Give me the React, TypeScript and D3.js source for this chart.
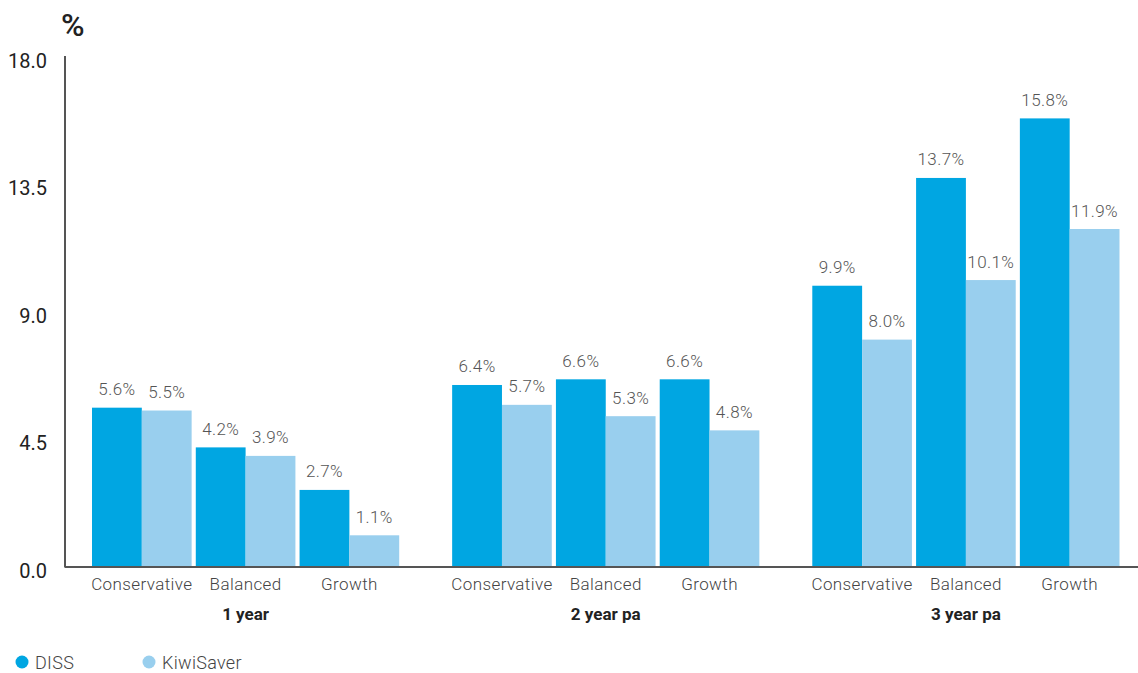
import React from "react";
import * as d3 from "d3";

const periods = ["1 year", "2 year pa", "3 year pa"];
const funds = ["Conservative", "Balanced", "Growth"];
const seriesNames = ["DISS", "KiwiSaver"];
// values[period][fund]
const dissValues = [
  [5.6, 4.2, 2.7],
  [6.4, 6.6, 6.6],
  [9.9, 13.7, 15.8],
];
const kiwiValues = [
  [5.5, 3.9, 1.1],
  [5.7, 5.3, 4.8],
  [8.0, 10.1, 11.9],
];
const yTicks = [0, 4.5, 9, 13.5, 18];
const colors = ["#00A6E2", "#99CFEE"];

const W = 1138;
const H = 673;
const FONT = "Roboto, 'Noto Sans', sans-serif";

export default function App() {
  const axisX = 65;
  const y = d3.scaleLinear().domain([0, 18]).range([566.5, 56]);
  const xPeriod = d3
    .scaleBand<string>()
    .domain(periods)
    .range([92, 1119.5])
    .paddingInner(0.147)
    .paddingOuter(0);
  const xFund = d3
    .scaleBand<string>()
    .domain(funds)
    .range([0, xPeriod.bandwidth()])
    .paddingInner(0.04)
    .paddingOuter(0);
  const xSeries = d3
    .scaleBand<string>()
    .domain(seriesNames)
    .range([0, xFund.bandwidth()]);

  const seriesData = [dissValues, kiwiValues];

  return (
    <svg width={W} height={H} style={{ position: "absolute", left: 0, top: 0, background: "#fff" }} fontFamily={FONT}>
      <rect x={0} y={0} width={W} height={H} fill="#fff" />
      <text x={61} y={36} fontSize={32} fontWeight={500} fill="#222">%</text>
      {yTicks.map((t) => (
        <text key={t} x={47} y={y(t) + 11.5} fontSize={20} fill="#222" textAnchor="end">
          {d3.format(".1f")(t)}
        </text>
      ))}
      {periods.map((p, pi) => (
        <g key={p} transform={`translate(${xPeriod(p)},0)`}>
          {funds.map((f, fi) => (
            <g key={f} transform={`translate(${xFund(f)},0)`}>
              {seriesNames.map((s, si) => {
                const v = seriesData[si][pi][fi];
                const bx = xSeries(s)!;
                const bw = xSeries.bandwidth();
                return (
                  <g key={s}>
                    <rect x={bx} y={y(v)} width={bw} height={y(0) - y(v)} fill={colors[si]} />
                    <text x={bx + bw / 2} y={y(v) - 12.5} fontSize={17} letterSpacing={0.4} fontWeight={300} fill="#555" textAnchor="middle">
                      {v.toFixed(1)}%
                    </text>
                  </g>
                );
              })}
              <text x={xFund.bandwidth() / 2} y={590} fontSize={17} letterSpacing={0.4} fill="#444" textAnchor="middle" fontWeight={300}>
                {f}
              </text>
            </g>
          ))}
          <text x={xPeriod.bandwidth() / 2} y={620} fontSize={17} fontWeight={700} fill="#222" textAnchor="middle">
            {p}
          </text>
        </g>
      ))}
      <line x1={axisX} x2={axisX} y1={56} y2={y(0) + 1} stroke="#555" strokeWidth={2} />
      <line x1={axisX} x2={W} y1={y(0) + 0.5} y2={y(0) + 0.5} stroke="#555" strokeWidth={2} />
      {seriesNames.map((s, i) => (
        <g key={s} transform={`translate(${i === 0 ? 22 : 149},662)`}>
          <circle cx={0} cy={0} r={6.5} fill={colors[i]} />
          <text x={13} y={6.5} fontSize={18} letterSpacing={0.3} fill="#444" fontWeight={300}>{s}</text>
        </g>
      ))}
    </svg>
  );
}
